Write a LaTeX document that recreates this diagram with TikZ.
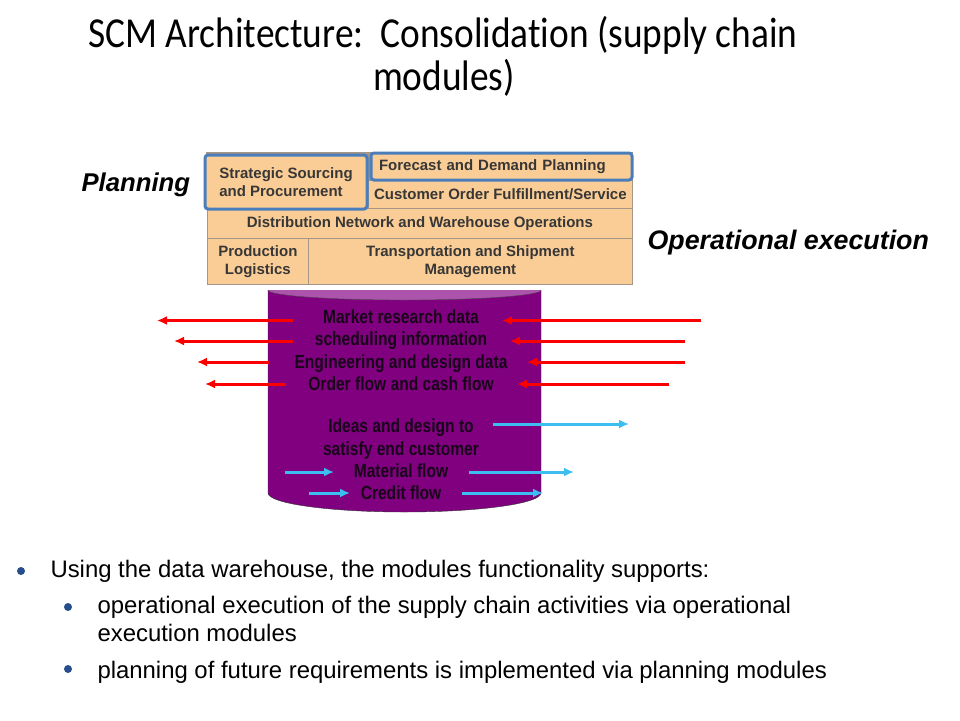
\documentclass[tikz,border=0pt]{standalone}
\usepackage{fontspec}
\setmainfont{Liberation Sans}
\newfontfamily\titlefont[FakeStretch=0.875,Ligatures=NoCommon]{Carlito}
\newfontfamily\narrowfont[FakeStretch=0.82]{Liberation Sans}
\usetikzlibrary{arrows.meta}
\definecolor{modfill}{RGB}{251,205,150}
\definecolor{modline}{RGB}{165,150,135}
\definecolor{modblue}{RGB}{74,126,187}
\definecolor{modtext}{RGB}{55,55,55}
\definecolor{dwbody}{RGB}{128,0,128}
\definecolor{dwtop}{RGB}{172,84,172}
\definecolor{dwtext}{RGB}{25,5,25}
\definecolor{flowred}{RGB}{250,0,0}
\definecolor{flowblue}{RGB}{60,190,240}
\definecolor{dotblue}{RGB}{38,78,140}
\begin{document}
\begin{tikzpicture}[x=1pt,y=-1pt,
    modbox/.style={draw=modline, fill=modfill, line width=0.8pt, inner sep=0pt, anchor=north west,
      font=\fontsize{15}{18}\selectfont\bfseries, text=modtext, align=center},
    selbox/.style={modbox, draw=modblue, line width=3pt, rounded corners=3pt},
    dwtext/.style={anchor=base, font=\narrowfont\fontsize{19}{22}\selectfont\bfseries, text=dwtext},
    redflow/.style={draw=flowred, line width=3pt, -{Latex[length=10pt,width=9pt]}},
    blueflow/.style={draw=flowblue, line width=3pt, -{Latex[length=10pt,width=9pt]}},
    bodytext/.style={anchor=base west, font=\fontsize{23.9}{28}\selectfont},
    bulletdot/.style={circle, fill=dotblue, inner sep=0pt, minimum size=8pt}]
    \useasboundingbox (0,0) rectangle (960,720);
    % title
    \node[anchor=base, font=\titlefont\fontsize{42.7}{43}\selectfont] (TitleA) at (443,47) {SCM Architecture:\ \ Consolidation (supply chain};
    \node[anchor=base, font=\titlefont\fontsize{42.7}{43}\selectfont] (TitleB) at (444,90) {modules)};
    % data warehouse cylinder
    \fill[dwbody] (268,290) -- (268,493) arc[start angle=180, end angle=360, x radius=136.5pt, y radius=19pt] -- (541,290) -- cycle;
    \fill[dwtop] (268,290) arc[start angle=180, end angle=360, x radius=136.5pt, y radius=10pt] -- cycle;
    \draw[black!80, thin] (268,290) -- (268,493) arc[start angle=180, end angle=360, x radius=136.5pt, y radius=19pt] -- (541,290);
    \draw[black!70, thin] (268,290) arc[start angle=180, end angle=360, x radius=136.5pt, y radius=10pt];
    % supply chain modules
    \fill[modline] (206,152) rectangle (633,209);
    \node[modbox, minimum width=425pt, minimum height=30pt] (Distribution) at (207,208) {Distribution Network and Warehouse Operations};
    \node[modbox, minimum width=101pt, minimum height=46pt] (Production) at (207,238) {Production\\Logistics};
    \node[modbox, minimum width=324pt, minimum height=46pt] (Transport) at (308,238) {Transportation and Shipment\\Management};
    \node[modbox, minimum width=264pt, minimum height=28pt] (Customer) at (368,180) {Customer Order Fulfillment/Service};
    \node[selbox, minimum width=162pt, minimum height=54pt, align=left] (Sourcing) at (203.5,153.5) {Strategic Sourcing\\and Procurement};
    \node[selbox, minimum height=27pt, text width=245pt, inner xsep=8pt, align=left] (Forecast) at (369.5,151.5) {Forecast and Demand Planning};
    % side labels
    \node[anchor=base west, font=\fontsize{25.7}{30}\selectfont\bfseries\itshape] (Planning) at (78,191) {Planning};
    \node[anchor=base west, font=\fontsize{26.8}{30}\selectfont\bfseries\itshape] (Operational) at (644,249) {Operational execution};
    % texts in the warehouse
    \node[dwtext] (Market) at (401,323) {Market research data};
    \node[dwtext] (Scheduling) at (401,345) {scheduling information};
    \node[dwtext] (Engineering) at (401,368) {Engineering and design data};
    \node[dwtext] (Order) at (401,390) {Order flow and cash flow};
    \node[dwtext] (Ideas) at (401,432) {Ideas and design to};
    \node[dwtext] (Satisfy) at (401,455) {satisfy end customer};
    \node[dwtext] (Material) at (401,477) {Material flow};
    \node[dwtext] (Credit) at (401,499) {Credit flow};
    % red flows
    \coordinate (MarketInL) at (293,320.5);  \coordinate (MarketOutL) at (157,320.5);
    \coordinate (SchedInL) at (293,341);     \coordinate (SchedOutL) at (174,341);
    \coordinate (EngInL) at (269,362);       \coordinate (EngOutL) at (197,362);
    \coordinate (OrderInL) at (286,384);     \coordinate (OrderOutL) at (205,384);
    \coordinate (MarketFromR) at (701,320.5); \coordinate (MarketToR) at (502,320.5);
    \coordinate (SchedFromR) at (685,341);   \coordinate (SchedToR) at (510,341);
    \coordinate (EngFromR) at (685,362);     \coordinate (EngToR) at (527,362);
    \coordinate (OrderFromR) at (669,384);   \coordinate (OrderToR) at (517,384);
    \draw[redflow] (MarketInL) -- (MarketOutL);
    \draw[redflow] (SchedInL) -- (SchedOutL);
    \draw[redflow] (EngInL) -- (EngOutL);
    \draw[redflow] (OrderInL) -- (OrderOutL);
    \draw[redflow] (MarketFromR) -- (MarketToR);
    \draw[redflow] (SchedFromR) -- (SchedToR);
    \draw[redflow] (EngFromR) -- (EngToR);
    \draw[redflow] (OrderFromR) -- (OrderToR);
    % blue flows
    \coordinate (IdeasFrom) at (493,424);    \coordinate (IdeasTo) at (629,424);
    \coordinate (MatFromL) at (285,472);     \coordinate (MatToL) at (334,472);
    \coordinate (MatFromR) at (469,472);     \coordinate (MatToR) at (574,472);
    \coordinate (CredFromL) at (309,493);    \coordinate (CredToL) at (350,493);
    \coordinate (CredFromR) at (462,493);    \coordinate (CredToR) at (543,493);
    \draw[blueflow] (IdeasFrom) -- (IdeasTo);
    \draw[blueflow] (MatFromL) -- (MatToL);
    \draw[blueflow] (MatFromR) -- (MatToR);
    \draw[blueflow] (CredFromL) -- (CredToL);
    \draw[blueflow] (CredFromR) -- (CredToR);
    % bullets
    \node[bulletdot] (DotA) at (21,571) {};
    \node[bodytext] (LineA) at (47,577) {Using the data warehouse, the modules functionality supports:};
    \node[bulletdot] (DotB) at (68,607) {};
    \node[bodytext] (LineB) at (94,613) {operational execution of the supply chain activities via operational};
    \node[bodytext] (LineC) at (94,641) {execution modules};
    \node[bulletdot] (DotC) at (68,669) {};
    \node[bodytext] (LineD) at (94,678) {planning of future requirements is implemented via planning modules};
\end{tikzpicture}
\end{document}
